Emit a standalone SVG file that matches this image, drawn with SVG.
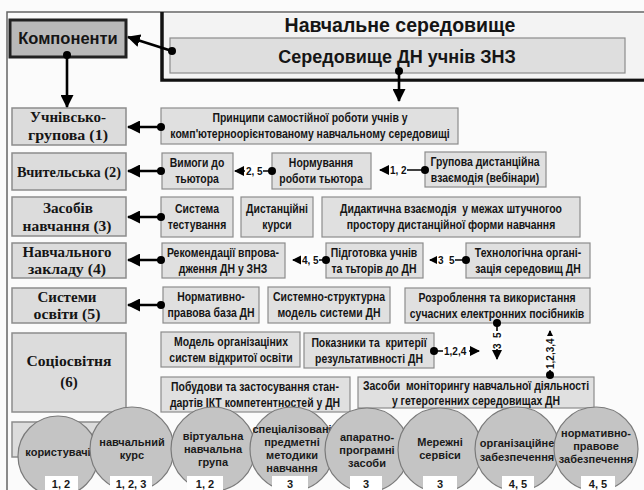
<svg xmlns="http://www.w3.org/2000/svg" width="644" height="490" viewBox="0 0 644 490">
<style>
.rb{fill:#e0e0e0;stroke:#8c8c8c;stroke-width:1.2}
.lb{fill:#dcdcdc;stroke:#8c8c8c;stroke-width:1.5}
.rt{font-family:"Liberation Sans",Arial,sans-serif;font-weight:bold;font-size:12px;text-anchor:middle;fill:#151515;white-space:pre}
.lt{font-family:"Liberation Serif","Times New Roman",serif;font-weight:bold;font-size:15px;text-anchor:middle;fill:#151515}
.ct{font-family:"Liberation Sans",Arial,sans-serif;font-weight:bold;font-size:11px;text-anchor:middle;fill:#1a1a1a}
.cc{fill:#c4c4c4;stroke:#7a7a7a;stroke-width:1.2}
.nb{fill:#ffffff}
.nt{font-family:"Liberation Sans",Arial,sans-serif;font-weight:bold;font-size:11px;text-anchor:middle;fill:#1a1a1a}
.big{stroke:#000;stroke-width:2.6;fill:none}
.sm{stroke:#000;stroke-width:1.6;fill:none}
.dot{fill:#000}
.lab{font-family:"Liberation Sans",Arial,sans-serif;font-weight:bold;font-size:10px;fill:#111;white-space:pre}
.lbg{fill:#fff}
</style>
<defs>
<marker id="ah" markerUnits="userSpaceOnUse" markerWidth="13" markerHeight="13" refX="12" refY="6.5" orient="auto"><path d="M0,0 L13,6.5 L0,13 z" fill="#000"/></marker>
<marker id="as" markerUnits="userSpaceOnUse" markerWidth="10" markerHeight="10" refX="9" refY="5" orient="auto"><path d="M0,0 L10,5 L0,10 z" fill="#000"/></marker>
</defs>
<rect x="0" y="0" width="644" height="490" fill="#fbfbfb"/>
<path d="M7,490 L7,12 L644,12" fill="none" stroke="#666" stroke-width="1.5"/>
<g id="env">
<path d="M162,12 L162,80 L644,80" fill="none" stroke="#111" stroke-width="3.5"/>
<rect x="164" y="13.5" width="480" height="65" fill="#f3f3f3"/>
<text x="400" y="32" font-family="Liberation Sans,Arial,sans-serif" font-weight="bold" font-size="19.5" text-anchor="middle" fill="#151515">Навчальне середовище</text>
</g>
<g id="sered">
<rect x="170" y="38" width="455" height="35" fill="#dedede" stroke="#8c8c8c" stroke-width="1.2"/>
<text x="397" y="63" font-family="Liberation Sans,Arial,sans-serif" font-weight="bold" font-size="18" text-anchor="middle" fill="#151515">Середовище ДН учнів ЗНЗ</text>
</g>
<g id="komp">
<rect x="10" y="20" width="116" height="37" fill="#b9b9b9" stroke="#222" stroke-width="3"/>
<text x="68" y="44" font-family="Liberation Sans,Arial,sans-serif" font-weight="bold" font-size="16.5" text-anchor="middle" fill="#151515">Компоненти</text>
</g>
<g id="l1"><rect class="lb" x="12" y="108" width="114" height="37"/><text class="lt" x="68" y="122" textLength="76" lengthAdjust="spacingAndGlyphs">Учнівсько-</text><text class="lt" x="68" y="140" textLength="80" lengthAdjust="spacingAndGlyphs">групова (1)</text></g>
<g id="l2"><rect class="lb" x="12" y="153" width="114" height="37"/><text class="lt" x="69" y="177" font-size="16" textLength="104" lengthAdjust="spacingAndGlyphs">Вчительська (2)</text></g>
<g id="l3"><rect class="lb" x="12" y="197" width="114" height="39"/><text class="lt" x="68" y="213" textLength="50" lengthAdjust="spacingAndGlyphs">Засобів</text><text class="lt" x="67" y="231" textLength="89" lengthAdjust="spacingAndGlyphs">навчання (3)</text></g>
<g id="l4"><rect class="lb" x="12" y="243" width="114" height="35"/><text class="lt" x="67" y="257" textLength="89" lengthAdjust="spacingAndGlyphs">Навчального</text><text class="lt" x="67" y="274" textLength="78" lengthAdjust="spacingAndGlyphs">закладу (4)</text></g>
<g id="l5"><rect class="lb" x="12" y="288" width="114" height="35"/><text class="lt" x="67" y="302" textLength="59" lengthAdjust="spacingAndGlyphs">Системи</text><text class="lt" x="67" y="319" textLength="67" lengthAdjust="spacingAndGlyphs">освіти (5)</text></g>
<g id="l6"><rect class="lb" x="12" y="333" width="114" height="79"/><text class="lt" x="69" y="366" font-size="18" textLength="85" lengthAdjust="spacingAndGlyphs">Соціосвітня</text><text class="lt" x="69" y="387" font-size="18">(6)</text></g>
<g id="l7"><rect class="lb" x="12" y="422" width="114" height="35"/></g>
<g id="r1"><rect class="rb" x="161" y="108" width="297" height="36"/><g transform="translate(310,0) scale(0.87,1)"><text class="rt" x="0" y="122">Принципи самостійної роботи учнів у</text><text class="rt" x="0" y="138">комп'ютерноорієнтованому навчальному середовищі</text></g></g>
<g id="r2a"><rect class="rb" x="162" y="153" width="71" height="36"/><g transform="translate(197,0) scale(0.87,1)"><text class="rt" x="0" y="167">Вимоги до</text><text class="rt" x="0" y="183">тьютора</text></g></g>
<g id="r2b"><rect class="rb" x="272" y="153" width="99" height="36"/><g transform="translate(321,0) scale(0.87,1)"><text class="rt" x="0" y="167">Нормування</text><text class="rt" x="0" y="183">роботи тьютора</text></g></g>
<g id="r2c"><rect class="rb" x="425" y="152" width="121" height="35"/><g transform="translate(485,0) scale(0.87,1)"><text class="rt" x="0" y="166">Групова дистанційна</text><text class="rt" x="0" y="182">взаємодія (вебінари)</text></g></g>
<g id="r3a"><rect class="rb" x="161" y="197" width="72" height="40"/><g transform="translate(197,0) scale(0.87,1)"><text class="rt" x="0" y="213">Система</text><text class="rt" x="0" y="229">тестування</text></g></g>
<g id="r3b"><rect class="rb" x="241" y="197" width="72" height="40"/><g transform="translate(277,0) scale(0.87,1)"><text class="rt" x="0" y="213">Дистанційні</text><text class="rt" x="0" y="229">курси</text></g></g>
<g id="r3c"><rect class="rb" x="322" y="197" width="258" height="40"/><g transform="translate(451,0) scale(0.87,1)"><text class="rt" x="0" y="213">Дидактична взаємодія  у межах штучногоо</text><text class="rt" x="0" y="229">простору дистанційної форми навчання</text></g></g>
<g id="r4a"><rect class="rb" x="162" y="243" width="123" height="35"/><g transform="translate(223,0) scale(0.87,1)"><text class="rt" x="0" y="257">Рекомендації впрова-</text><text class="rt" x="0" y="273">дження ДН у ЗНЗ</text></g></g>
<g id="r4b"><rect class="rb" x="326" y="243" width="97" height="35"/><g transform="translate(374,0) scale(0.87,1)"><text class="rt" x="0" y="257">Підготовка учнів</text><text class="rt" x="0" y="273">та тьторів до ДН</text></g></g>
<g id="r4c"><rect class="rb" x="466" y="243" width="124" height="35"/><g transform="translate(528,0) scale(0.87,1)"><text class="rt" x="0" y="257">Технологічна органі-</text><text class="rt" x="0" y="273">зація середовищ ДН</text></g></g>
<g id="r5a"><rect class="rb" x="163" y="287" width="96" height="36"/><g transform="translate(211,0) scale(0.87,1)"><text class="rt" x="0" y="301">Нормативно-</text><text class="rt" x="0" y="317">правова база ДН</text></g></g>
<g id="r5b"><rect class="rb" x="268" y="287" width="122" height="36"/><g transform="translate(329,0) scale(0.87,1)"><text class="rt" x="0" y="301">Системно-структурна</text><text class="rt" x="0" y="317">модель системи ДН</text></g></g>
<g id="r5c"><rect class="rb" x="405" y="288" width="185" height="35"/><g transform="translate(497,0) scale(0.87,1)"><text class="rt" x="0" y="302">Розроблення та використання</text><text class="rt" x="0" y="318">сучасних електронних посібників</text></g></g>
<g id="r6a"><rect class="rb" x="161" y="332" width="139" height="35"/><g transform="translate(231,0) scale(0.87,1)"><text class="rt" x="0" y="346">Модель організаціних</text><text class="rt" x="0" y="362">систем відкритої освіти</text></g></g>
<g id="r6b"><rect class="rb" x="304" y="333" width="130" height="35"/><g transform="translate(369,0) scale(0.87,1)"><text class="rt" x="0" y="347">Показники та  критерії</text><text class="rt" x="0" y="363">результативності ДН</text></g></g>
<g id="r7a"><rect class="rb" x="161" y="377" width="189" height="35"/><g transform="translate(255,0) scale(0.87,1)"><text class="rt" x="0" y="391">Побудови та застосування стан-</text><text class="rt" x="0" y="407">дартів ІКТ компетентностей у ДН</text></g></g>
<g id="r7b"><rect class="rb" x="358" y="377" width="236" height="31"/><g transform="translate(476,0) scale(0.87,1)"><text class="rt" x="0" y="390">Засоби  моніторингу навчальної діяльності</text><text class="rt" x="0" y="405">у гетерогенних середовищах ДН</text></g></g>
<g id="connectors">
<line class="big" x1="172" y1="51" x2="128" y2="37" marker-end="url(#ah)"/><circle class="dot" cx="172" cy="51" r="4"/>
<line class="big" x1="67" y1="55" x2="67" y2="107" marker-end="url(#ah)"/><circle class="dot" cx="67" cy="55" r="4"/>
<line class="big" x1="399" y1="71" x2="399" y2="101" marker-end="url(#ah)"/><circle class="dot" cx="399" cy="71" r="4"/>
<line class="big" x1="161" y1="127" x2="128" y2="127" marker-end="url(#ah)"/><circle class="dot" cx="161" cy="127" r="4"/>
<line class="big" x1="161" y1="171" x2="128" y2="171" marker-end="url(#ah)"/><circle class="dot" cx="161" cy="171" r="4"/>
<line class="big" x1="161" y1="217" x2="128" y2="217" marker-end="url(#ah)"/><circle class="dot" cx="161" cy="217" r="4"/>
<line class="big" x1="161" y1="260" x2="128" y2="260" marker-end="url(#ah)"/><circle class="dot" cx="161" cy="260" r="4"/>
<line class="big" x1="161" y1="305" x2="128" y2="305" marker-end="url(#ah)"/><circle class="dot" cx="161" cy="305" r="4"/>
<line class="sm" x1="272" y1="171" x2="235" y2="171" marker-end="url(#as)"/><rect class="lbg" x="245" y="165" width="18" height="12"/><text class="lab" x="246" y="175">2, 5</text><circle class="dot" cx="272" cy="171" r="4"/>
<line class="sm" x1="425" y1="170" x2="380" y2="170" marker-end="url(#as)"/><rect class="lbg" x="389" y="164" width="18" height="12"/><text class="lab" x="390" y="174">1, 2</text><circle class="dot" cx="425" cy="170" r="4"/>
<line class="sm" x1="326" y1="260" x2="293" y2="260" marker-end="url(#as)"/><rect class="lbg" x="301" y="254" width="18" height="12"/><text class="lab" x="302" y="264">4, 5</text><circle class="dot" cx="326" cy="260" r="4"/>
<line class="sm" x1="466" y1="260" x2="430" y2="260" marker-end="url(#as)"/><rect class="lbg" x="437" y="254" width="18" height="12"/><text class="lab" x="438" y="264">3  5</text><circle class="dot" cx="466" cy="260" r="4"/>
<line class="sm" x1="434" y1="351" x2="479" y2="351" marker-end="url(#as)"/><rect class="lbg" x="443" y="345" width="26" height="12"/><text class="lab" x="444" y="355">1,2,4</text><circle class="dot" cx="434" cy="351" r="4"/>
<line class="sm" x1="497" y1="323" x2="497" y2="359" marker-end="url(#as)"/><rect class="lbg" x="491" y="331" width="12" height="18"/><text class="lab" transform="translate(501,349) rotate(-90)">3  5</text><circle class="dot" cx="497" cy="323" r="4"/>
<line class="sm" x1="550" y1="375" x2="550" y2="331" marker-end="url(#as)"/><rect class="lbg" x="544" y="336" width="12" height="34"/><text class="lab" transform="translate(554,369) rotate(-90)">1,2,3,4</text><circle class="dot" cx="550" cy="375" r="4"/>
</g>
<g id="c1"><circle class="cc" cx="58" cy="456" r="40"/><text class="ct" x="58" y="456">користувачі</text></g>
<g id="c2"><circle class="cc" cx="132" cy="449" r="42"/><text class="ct" x="132" y="446">навчальний</text><text class="ct" x="132" y="459">курс</text></g>
<g id="c3"><circle class="cc" cx="213" cy="449" r="42"/><text class="ct" x="213" y="440">віртуальна</text><text class="ct" x="213" y="453">навчальна</text><text class="ct" x="213" y="466">група</text></g>
<g id="c4"><circle class="cc" cx="292" cy="449" r="42"/><text class="ct" x="292" y="433">спеціалізовані</text><text class="ct" x="292" y="446">предметні</text><text class="ct" x="292" y="459">методики</text><text class="ct" x="292" y="472">навчання</text></g>
<g id="c5"><circle class="cc" cx="367" cy="450" r="42"/><text class="ct" x="367" y="441">апаратно-</text><text class="ct" x="367" y="454">програмні</text><text class="ct" x="367" y="467">засоби</text></g>
<g id="c6"><circle class="cc" cx="440" cy="450" r="42"/><text class="ct" x="440" y="446">Мережні</text><text class="ct" x="440" y="459">сервіси</text></g>
<g id="c7"><circle class="cc" cx="517" cy="449" r="42"/><text class="ct" x="517" y="447">організаційне</text><text class="ct" x="517" y="461">забезпечення</text></g>
<g id="c8"><circle class="cc" cx="596" cy="449" r="42"/><text class="ct" x="596" y="437">нормативно-</text><text class="ct" x="596" y="450">правове</text><text class="ct" x="596" y="463">забезпечення</text></g>
<g id="nums">
<rect class="nb" x="45" y="476" width="33" height="14"/><text class="nt" x="61" y="488">1, 2</text>
<rect class="nb" x="110" y="476" width="42" height="14"/><text class="nt" x="131" y="488">1, 2, 3</text>
<rect class="nb" x="187" y="476" width="36" height="14"/><text class="nt" x="205" y="488">1, 2</text>
<rect class="nb" x="272" y="476" width="36" height="14"/><text class="nt" x="290" y="488">3</text>
<rect class="nb" x="350" y="476" width="32" height="14"/><text class="nt" x="366" y="488">3</text>
<rect class="nb" x="423" y="476" width="34" height="14"/><text class="nt" x="440" y="488">3</text>
<rect class="nb" x="502" y="476" width="32" height="14"/><text class="nt" x="518" y="488">4, 5</text>
<rect class="nb" x="581" y="476" width="34" height="14"/><text class="nt" x="598" y="488">4, 5</text>
</g>
</svg>
